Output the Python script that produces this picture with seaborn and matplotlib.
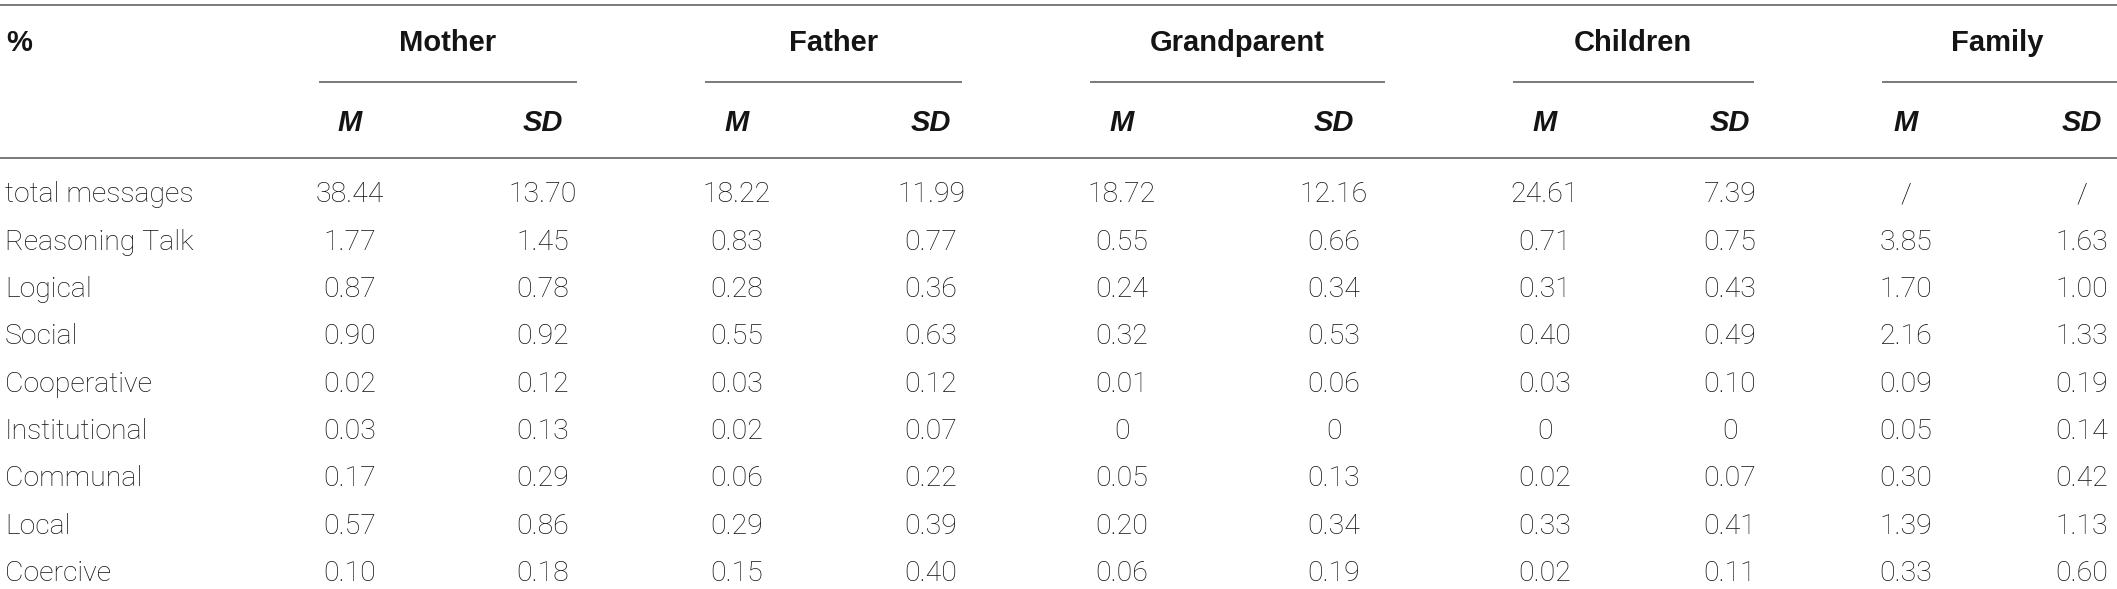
import matplotlib.pyplot as plt
import seaborn as sns

# table content
row_labels = ["total messages", "Reasoning Talk", "Logical", "Social", "Cooperative",
              "Institutional", "Communal", "Local", "Coercive"]
groups = ["Mother", "Father", "Grandparent", "Children", "Family"]

mother_m = ["38.44", "1.77", "0.87", "0.90", "0.02", "0.03", "0.17", "0.57", "0.10"]
mother_sd = ["13.70", "1.45", "0.78", "0.92", "0.12", "0.13", "0.29", "0.86", "0.18"]
father_m = ["18.22", "0.83", "0.28", "0.55", "0.03", "0.02", "0.06", "0.29", "0.15"]
father_sd = ["11.99", "0.77", "0.36", "0.63", "0.12", "0.07", "0.22", "0.39", "0.40"]
grand_m = ["18.72", "0.55", "0.24", "0.32", "0.01", "0", "0.05", "0.20", "0.06"]
grand_sd = ["12.16", "0.66", "0.34", "0.53", "0.06", "0", "0.13", "0.34", "0.19"]
child_m = ["24.61", "0.71", "0.31", "0.40", "0.03", "0", "0.02", "0.33", "0.02"]
child_sd = ["7.39", "0.75", "0.43", "0.49", "0.10", "0", "0.07", "0.41", "0.11"]
family_m = ["/", "3.85", "1.70", "2.16", "0.09", "0.05", "0.30", "1.39", "0.33"]
family_sd = ["/", "1.63", "1.00", "1.33", "0.19", "0.14", "0.42", "1.13", "0.60"]

columns = [(mother_m, mother_sd), (father_m, father_sd), (grand_m, grand_sd),
           (child_m, child_sd), (family_m, family_sd)]

# layout (pixel coords)
W, H = 2117, 589
m_x = [350, 737, 1122, 1545, 1906]
sd_x = [543, 931, 1334, 1730, 2082]
head_x = [448, 834, 1237, 1633, 1997]
under_lines = [(319, 577), (705, 962), (1090, 1385), (1513, 1754), (1882, 2117)]
row_y0, row_dy = 195, 47.3

sns.set_theme(style="white")
plt.rcParams["font.family"] = ["Roboto", "DejaVu Sans"]

fig = plt.figure(figsize=(W / 100, H / 100), dpi=100)
ax = fig.add_axes([0, 0, 1, 1])
ax.set_xlim(0, W)
ax.set_ylim(H, 0)
ax.axis("off")

line_kw = dict(color="#707070", linewidth=1.3)
ax.hlines(5, 0, W, **line_kw)
ax.hlines(158, 0, W, **line_kw)
for x0, x1 in under_lines:
    ax.hlines(82, x0, x1, **line_kw)

head_kw = dict(fontsize=21, fontweight="bold", color="#141414",
               family=["Liberation Sans", "DejaVu Sans"])
ax.text(6, 43, "%", ha="left", va="center", **head_kw)
for g, hx, mx, sx in zip(groups, head_x, m_x, sd_x):
    ax.text(hx, 43, g, ha="center", va="center", **head_kw)
    ax.text(mx, 123, "M", ha="center", va="center", style="italic", **head_kw)
    ax.text(sx, 123, "SD", ha="center", va="center", style="italic", **head_kw)

body_kw = dict(fontsize=20.5, fontweight="light", color="#111111")
for i, lab in enumerate(row_labels):
    y = row_y0 + i * row_dy
    ax.text(5, y, lab, ha="left", va="center", **body_kw)
    for (mvals, sdvals), mx, sx in zip(columns, m_x, sd_x):
        ax.text(mx, y, mvals[i], ha="center", va="center", **body_kw)
        ax.text(sx, y, sdvals[i], ha="center", va="center", **body_kw)

fig.savefig("out.png", dpi=100, facecolor="white")
